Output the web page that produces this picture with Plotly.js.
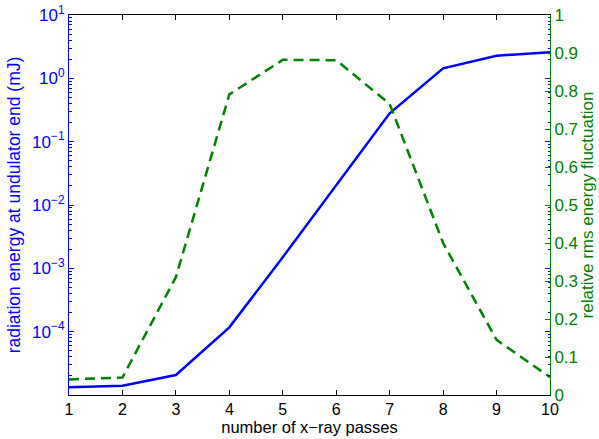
<!DOCTYPE html>
<html>
<head>
<meta charset="utf-8">
<script src="https://cdn.plot.ly/plotly-3.0.1.min.js"></script>
<style>html,body{margin:0;padding:0;background:#fff;}#chart{width:599px;height:439px;}</style>
</head>
<body>
<div id="chart"></div>
<script>
const passes = [1, 2, 3, 4, 5, 6, 7, 8, 9, 10];
const energy = [1.32e-5, 1.40e-5, 2.07e-5, 1.17e-4, 1.5e-3, 0.0207, 0.28, 1.44, 2.28, 2.58];
const fluct = [0.041, 0.046, 0.31, 0.791, 0.882, 0.881, 0.766, 0.40, 0.145, 0.047];
const leftTickVals = [1e-4, 1e-3, 1e-2, 1e-1, 1, 10];
const leftTickText = ['10<sup>−4</sup>', '10<sup>−3</sup>', '10<sup>−2</sup>', '10<sup>−1</sup>', '10<sup>0</sup>', '10<sup>1</sup>'];
const rightTickVals = [0, 0.1, 0.2, 0.3, 0.4, 0.5, 0.6, 0.7, 0.8, 0.9, 1];

const BLUE = 'rgb(0,0,255)';
const GREEN = 'rgb(0,128,0)';
const FONT = 'Liberation Sans, Arial, Helvetica, sans-serif';

const traces = [
  {x: passes, y: energy, type: 'scatter', mode: 'lines', yaxis: 'y',
   line: {color: BLUE, width: 2.5}, hoverinfo: 'skip'},
  {x: passes, y: fluct, type: 'scatter', mode: 'lines', yaxis: 'y2',
   line: {color: GREEN, width: 2.5, dash: '10px,6px'}, hoverinfo: 'skip'}
];

const layout = {
  width: 599, height: 439,
  margin: {l: 69, r: 49, t: 15, b: 44},
  paper_bgcolor: '#fff', plot_bgcolor: '#fff',
  showlegend: false,
  font: {family: FONT, size: 16, color: '#000'},
  xaxis: {
    range: [1, 10], tickvals: passes, ticks: 'inside', ticklen: 5, tickcolor: '#000',
    showline: true, linecolor: '#000', linewidth: 1, mirror: 'ticks',
    showgrid: false, zeroline: false,
    tickfont: {family: FONT, size: 16, color: '#000'},
    title: {text: 'number of x−ray passes', font: {family: FONT, size: 16.5, color: '#000'}, standoff: 2}
  },
  yaxis: {
    type: 'log', range: [-5, 1], tickvals: leftTickVals, ticktext: leftTickText,
    ticks: 'inside', ticklen: 5, tickcolor: BLUE,
    minor: {ticks: 'inside', ticklen: 2.5, tickcolor: BLUE, dtick: 'D1'},
    showline: true, linecolor: BLUE, linewidth: 1, mirror: 'ticks',
    showgrid: false, zeroline: false,
    tickfont: {family: FONT, size: 17, color: BLUE},
    title: {text: 'radiation energy at undulator end (mJ)', font: {family: FONT, size: 17.5, color: BLUE}, standoff: 6}
  },
  yaxis2: {
    overlaying: 'y', side: 'right', range: [0, 1], tickvals: rightTickVals,
    ticks: 'inside', ticklen: 5, tickcolor: GREEN,
    showline: true, linecolor: GREEN, linewidth: 1,
    showgrid: false, zeroline: false,
    tickfont: {family: FONT, size: 17, color: GREEN},
    title: {text: 'relative rms energy fluctuation', font: {family: FONT, size: 17, color: GREEN}, standoff: 3}
  }
};

Plotly.newPlot('chart', traces, layout, {staticPlot: true, displayModeBar: false});
</script>
</body>
</html>
